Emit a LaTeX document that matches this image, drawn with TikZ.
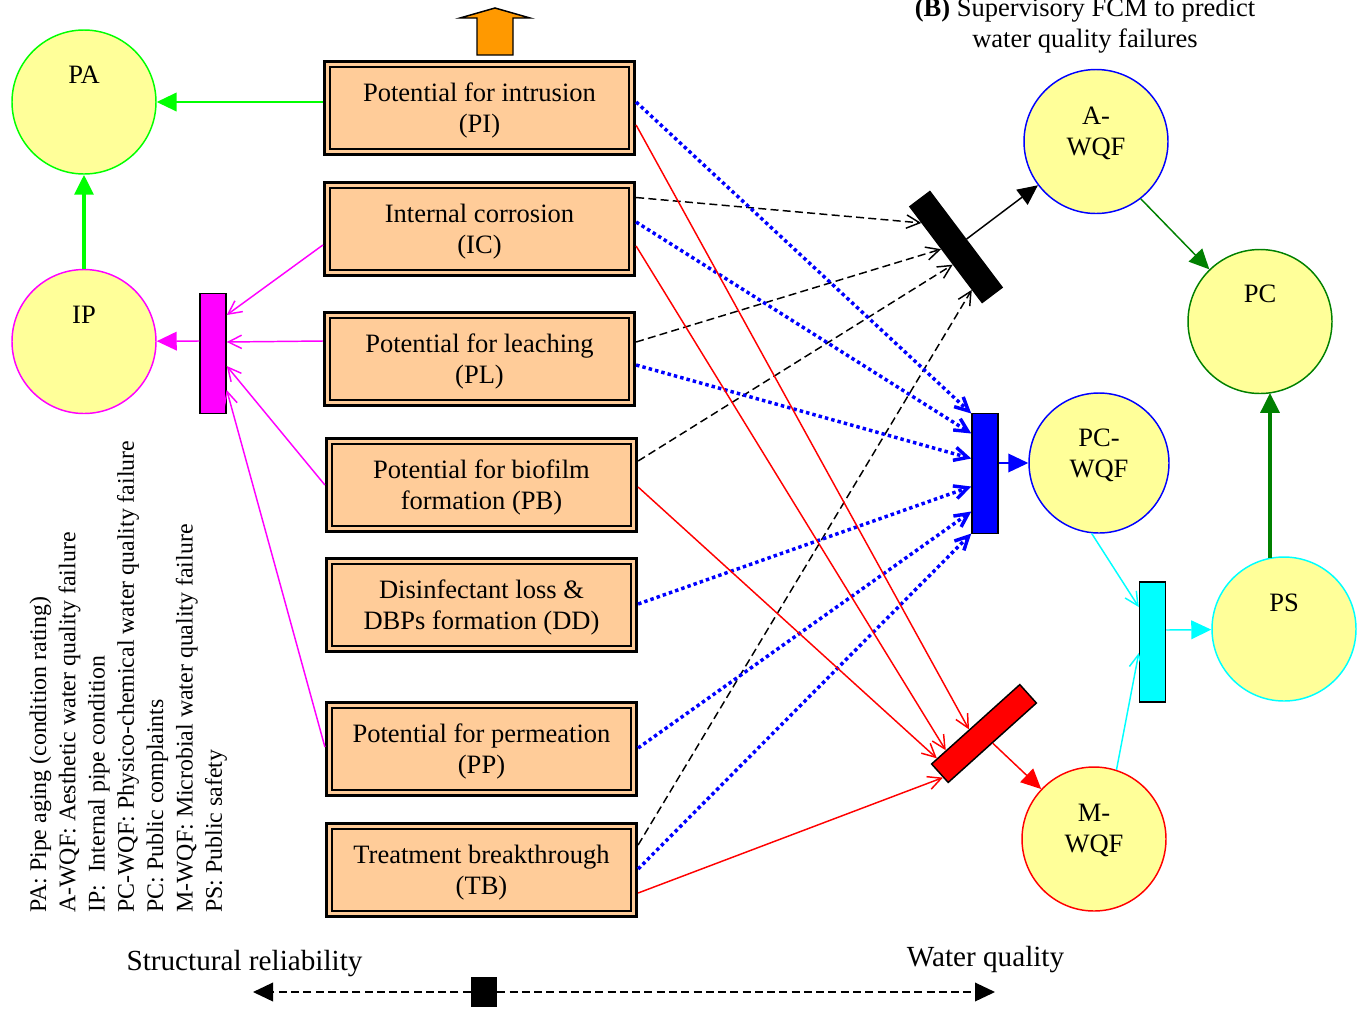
\documentclass[tikz,border=0pt]{standalone}
\usepackage{fontspec}
\setmainfont{Liberation Serif}
\usetikzlibrary{arrows.meta,calc}
\definecolor{cyel}{HTML}{FFFF99}
\definecolor{cpeach}{HTML}{FFCC99}
\definecolor{corange}{HTML}{FF9900}
\definecolor{cgreen}{HTML}{00FF00}
\definecolor{cdgreen}{HTML}{008000}
\definecolor{cmag}{HTML}{FF00FF}
\definecolor{ccyan}{HTML}{00FFFF}
\definecolor{cblue}{HTML}{0000FF}
\definecolor{cred}{HTML}{FF0000}
\newcommand{\mainsz}{\fontsize{19.9}{23.3}\selectfont}
\newcommand{\legsz}{\fontsize{17.9}{21}\selectfont}
\newcommand{\botsz}{\fontsize{21.9}{25}\selectfont}
\begin{document}
\begin{tikzpicture}[x=0.75pt,y=-0.75pt,
  concept/.style={draw=black, line width=2pt, double=cpeach, double distance=2.2pt,
    fill=cpeach, minimum width=228.5pt, minimum height=65.8pt, inner sep=0pt,
    align=center, font=\mainsz, outer sep=3.2pt,
    execute at begin node={\rule{0pt}{41.5pt}}},
  fcm/.style={circle, draw, line width=1.1pt, fill=cyel, minimum size=108pt, inner sep=0pt},
  gate/.style={draw=black, line width=1.1pt, minimum width=19.5pt, minimum height=90pt, inner sep=0pt},
  lbl/.style={font=\mainsz, inner sep=0pt, align=center},
  leg/.style={font=\legsz, inner sep=0pt, rotate=90, anchor=base west},
  tri/.style={-{Triangle[length=15pt,width=14pt]}},
  barb/.style={-{Straight Barb[length=10pt,width=10pt]}},
  dsh/.style={dash pattern=on 6pt off 3.2pt, line width=1.1pt},
  bdot/.style={cblue, line width=2.6pt, dash pattern=on 2.6pt off 2.3pt},
  thin/.style={line width=1.1pt}]
\useasboundingbox (0,0) rectangle (1367,1011);

% concept boxes
\node[concept] (PI) at (479.5,108) {Potential for intrusion\\(PI)};
\node[concept] (IC) at (479.5,229) {Internal corrosion\\(IC)};
\node[concept] (PL) at (479.5,359) {Potential for leaching\\(PL)};
\node[concept] (PB) at (481.5,485) {Potential for biofilm\\formation (PB)};
\node[concept] (DD) at (481.5,605) {Disinfectant loss \&\\DBPs formation (DD)};
\node[concept] (PP) at (481.5,749) {Potential for permeation\\(PP)};
\node[concept] (TB) at (481.5,870) {Treatment breakthrough\\(TB)};

% orange arrow
\draw[fill=corange, thin, line join=miter] (477,55) -- (477,18) -- (460,18) -- (495,8) -- (530,18) -- (513,18) -- (513,55) -- cycle;

% FCM circles
\node[fcm, draw=cgreen] (PA) at (84,102) {};
\node[fcm, draw=cmag] (IP) at (84,341.5) {};
\node[fcm, draw=cblue] (AWQF) at (1096,141.5) {};
\node[fcm, draw=cdgreen] (PC) at (1260,321.5) {};
\node[fcm, draw=cblue, minimum size=105pt] (PCWQF) at (1099,463) {};
\node[fcm, draw=ccyan] (PS) at (1284,629) {};
\node[fcm, draw=cred] (MWQF) at (1094,839) {};

\node[lbl] (PAt) at (84,75) {PA};
\node[lbl] (IPt) at (84,315) {IP};
\node[lbl] (AWQFt) at (1096,133.5) {A-\\WQF};
\node[lbl] (PCt) at (1260,294) {PC};
\node[lbl] (PCWQFt) at (1099,455.5) {PC-\\WQF};
\node[lbl] (PSt) at (1284,603) {PS};
\node[lbl] (MWQFt) at (1094,830.5) {M-\\WQF};

% gates
\node[gate, fill=cmag] (gM) at (213,353.5) {};
\node[gate, fill=black, rotate=37, minimum width=18.75pt] (gK) at (956,247) {};
\node[gate, fill=cblue] (gB) at (985,473.5) {};
\node[gate, fill=cred, rotate=-48, minimum width=18.6pt, minimum height=89pt] (gR) at (984,733.5) {};
\node[gate, fill=ccyan] (gC) at (1152.5,642) {};

% structural side
\draw[cgreen, line width=1.5pt, tri] ($(PI.west)+(0,-6)$) -- (PA);
\draw[cgreen, line width=3pt, tri] (IP) -- (PA);
\draw[cmag, thin, barb] ($(IC.west)+(0,16)$) -- ($(gM.east)+(0,-38.5)$);
\draw[cmag, thin, barb] ($(PL.west)+(0,-18)$) -- ($(gM.east)+(0,-11.5)$);
\draw[cmag, thin, barb] (PB.west) -- ($(gM.east)+(0,12.5)$);
\draw[cmag, thin, barb] ($(PP.west)+(0,-2)$) -- ($(gM.east)+(0,36.5)$);
\draw[cmag, thin, tri] ($(gM.west)+(0,-12.5)$) -- (IP);

% black dashed to A-WQF gate
\draw[dsh, barb] ($(IC.east)+(0,-31.5)$) -- ($(gK.north west)!0.17!(gK.south west)$);
\draw[dsh, barb] ($(PL.east)+(0,-17)$) -- ($(gK.north west)!0.44!(gK.south west)$);
\draw[dsh, barb] ($(PB.east)+(0,-24)$) -- ($(gK.north west)!0.6!(gK.south west)$);
\draw[dsh, barb] ($(TB.east)+(0,-25)$) -- ($(gK.north west)!0.86!(gK.south west)$);
\draw[thin, tri] (gK.east) -- (AWQF);

% blue dotted to PC-WQF gate
\draw[bdot, barb] ($(PI.east)+(0,-6)$) -- ($(gB.west)+(0,-60)$);
\draw[bdot, barb] ($(IC.east)+(0,-7)$) -- ($(gB.west)+(0,-40)$);
\draw[bdot, barb] ($(PL.east)+(0,6)$) -- ($(gB.west)+(0,-15)$);
\draw[bdot, barb] ($(DD.east)+(0,-1)$) -- ($(gB.west)+(0,13)$);
\draw[bdot, barb] ($(PP.east)+(0,-1)$) -- ($(gB.west)+(0,38)$);
\draw[bdot, barb] ($(TB.east)+(0,-1)$) -- ($(gB.west)+(0,60)$);
\draw[cblue, thin, tri] ($(gB.east)+(0,-10.5)$) -- (PCWQF);

% red to M-WQF gate
\draw[cred, thin, barb] ($(PI.east)+(0,17)$) -- ($(gR.north west)!0.57!(gR.south west)$);
\draw[cred, thin, barb] ($(IC.east)+(0,17)$) -- ($(gR.north west)!0.83!(gR.south west)$);
\draw[cred, thin, barb] ($(PB.east)+(0,2)$) -- ($(gR.north west)!0.93!(gR.south west)$);
\draw[cred, thin, barb] ($(TB.east)+(0,23)$) -- ($(gR.south)!0.4!(gR.south east)$);
\draw[cred, thin, tri] (gR.east) -- (MWQF);

% supervisory
\draw[ccyan, thin, barb] (PCWQF.264) -- ($(gC.west)+(0,-35)$);
\draw[ccyan, thin, barb] (MWQF.72) -- ($(gC.west)+(0,11)$);
\draw[ccyan, thin, tri] ($(gC.east)+(0,-12)$) -- (PS);
\draw[cdgreen, thin, tri] (AWQF.-52) -- (PC);
\draw[cdgreen, line width=3pt, tri] ($(PS.center)+(-14,-70.6)$) -- ($(PC.center)+(10,71.3)$);

% title
\node[lbl] (ttl) at (1085,26) {\textbf{(B)} Supervisory FCM to predict\\water quality failures};

% legend
\node[leg] (l1) at (46,913) {PA: Pipe aging (condition rating)};
\node[leg] (l2) at (75.3,913) {A-WQF: Aesthetic water quality failure};
\node[leg] (l3) at (104.6,913) {IP:\ \ Internal pipe condition};
\node[leg] (l4) at (133.9,913) {PC-WQF: Physico-chemical water quality failure};
\node[leg] (l5) at (163.2,913) {PC: Public complaints};
\node[leg] (l6) at (192.5,913) {M-WQF: Microbial water quality failure};
\node[leg] (l7) at (221.8,913) {PS: Public safety};

% bottom scale
\node[fill=black, minimum width=19.5pt, minimum height=22.5pt, inner sep=0pt] (sq) at (484,992) {};
\coordinate (bl) at (253,992);
\coordinate (br) at (995,992);
\draw[dsh, tri] (sq) -- (bl);
\draw[dsh, tri] (sq) -- (br);
\node[font=\botsz, inner sep=0pt] (lsr) at (244.5,964) {Structural reliability};
\node[font=\botsz, inner sep=0pt] (lwq) at (985.5,960) {Water quality};
\end{tikzpicture}
\end{document}
